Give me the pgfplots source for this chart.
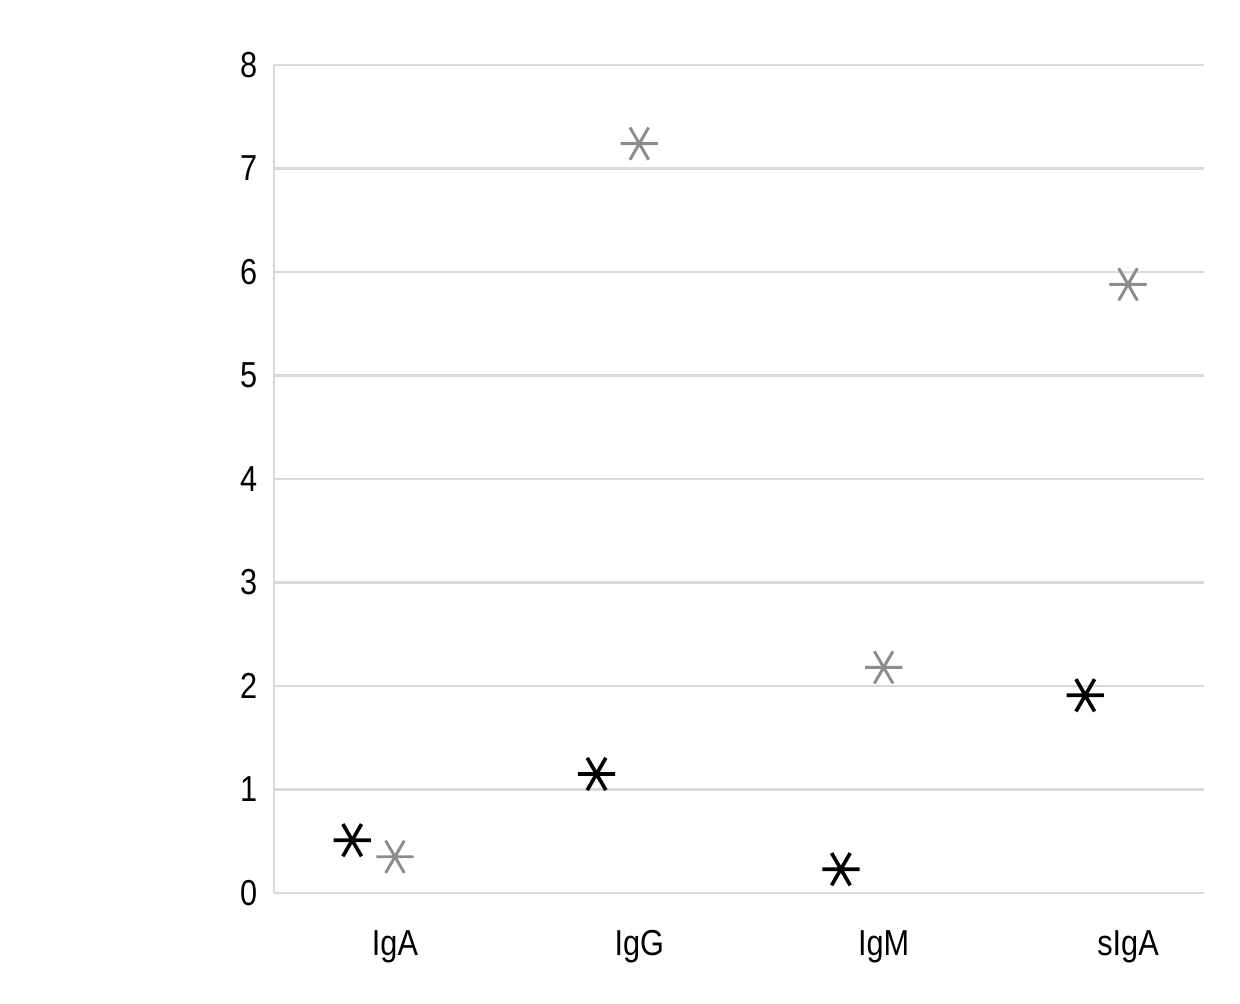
\documentclass[border=0pt]{standalone}
\usepackage{pgfplots}
\pgfplotsset{compat=1.18}
\usepackage{fontspec}
\setmainfont{Liberation Sans}[FakeStretch=0.85]
\definecolor{gridc}{RGB}{217,217,217}
\definecolor{grayc}{RGB}{140,140,140}
\begin{document}
\begin{tikzpicture}
\path[use as bounding box] (-98.64pt,-39.6pt) rectangle (347.76pt,321.48pt);
\begin{axis}[
  at={(0,0)}, anchor=south west,
  scale only axis, width=334.8pt, height=298.1pt,
  xmin=-0.495, xmax=3.311, ymin=0, ymax=8,
  ytick={0,1,...,8},
  xtick={0,1,2,3}, xticklabels={IgA,IgG,IgM,sIgA},
  axis x line*=bottom, axis y line*=left,
  axis line style={gridc, line width=1pt, -},
  ymajorgrids, grid style={gridc, line width=1pt},
  major tick length=0pt,
  tick style={draw=none},
  font=\fontsize{13}{15}\selectfont,
  /pgf/number format/assume math mode=true,
  yticklabel style={xshift=-2.5pt},
  xticklabel style={yshift=-10pt},
  clip=false,
]
\addplot[only marks, mark=asterisk, mark size=6.7pt, mark options={rotate=90, line width=1.3pt, draw=black}]
  coordinates {(-0.175,0.51) (0.825,1.15) (1.825,0.23) (2.825,1.91)};
\addplot[only marks, mark=asterisk, mark size=6.7pt, mark options={rotate=90, line width=1.05pt, draw=grayc}]
  coordinates {(0,0.35) (1,7.24) (2,2.18) (3,5.88)};
\end{axis}
\end{tikzpicture}
\end{document}
